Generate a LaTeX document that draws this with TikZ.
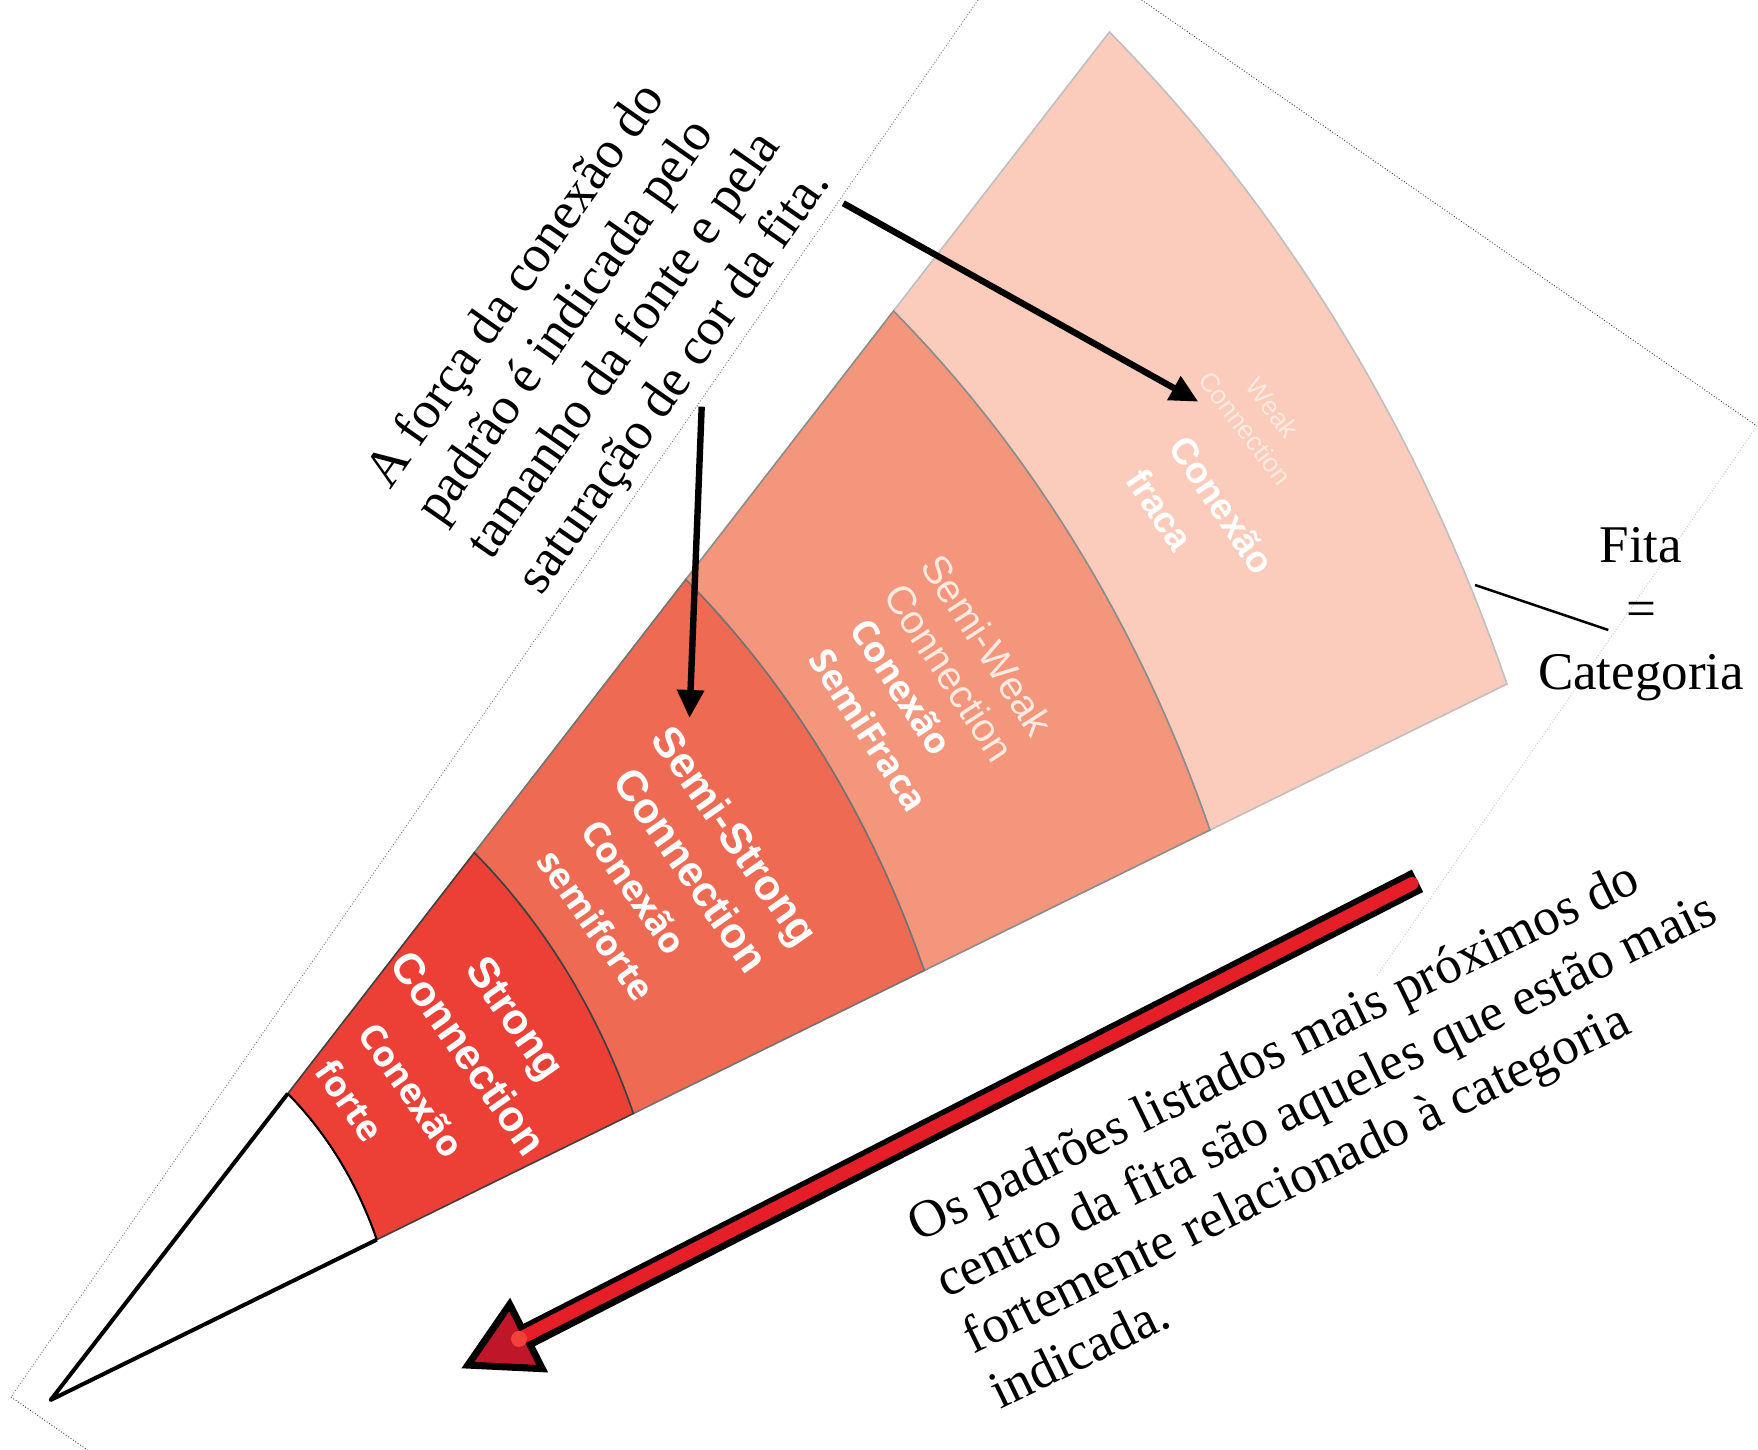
\documentclass[tikz,border=0pt]{standalone}
\usepackage{fontspec}
\setmainfont{Liberation Serif}
\newfontfamily\bandsans{Liberation Sans}
\newfontfamily\bandopen{Open Sans}
\usetikzlibrary{arrows.meta}

\definecolor{bandweak}{HTML}{FBCCBB}
\definecolor{bandsemiweak}{HTML}{F4967C}
\definecolor{bandsemistrong}{HTML}{EF6A53}
\definecolor{bandstrong}{HTML}{EC3F36}
\definecolor{arrowred}{HTML}{E61E28}
\definecolor{arrowdark}{HTML}{C0162A}
\definecolor{arrowglow}{HTML}{F2403A}
\definecolor{paleletter}{HTML}{FCE9DF}

% fan geometry: apex, lower edge direction, stretched upper edge, local sector angle
\def\fanang{26.08}
\pgfmathsetmacro\fanex{(0.6524-cos(\fanang)*0.8974)/sin(\fanang)}
\pgfmathsetmacro\faney{(0.8430-cos(\fanang)*0.4412)/sin(\fanang)}
% arc of the fan at local radius #1, from angle #2 to angle #3
\newcommand\fanarc[3]{plot[domain=#2:#3,samples=60,variable=\t]({50.7+#1*(0.8974*cos(\t)+\fanex*sin(\t))},{50+#1*(0.4412*cos(\t)+\faney*sin(\t))})}
% the same arc, joined to the path by a straight line
\newcommand\fanarcto[3]{-- plot[domain=#2:#3,samples=60,variable=\t]({50.7+#1*(0.8974*cos(\t)+\fanex*sin(\t))},{50+#1*(0.4412*cos(\t)+\faney*sin(\t))})}

\begin{document}
\begin{tikzpicture}[x=0.5pt,y=0.5pt,
  pageedge/.style={black!75, line width=0.45pt, dash pattern=on 0.45pt off 1pt},
  fanedge/.style={black, line width=2pt, line join=round},
  bandline/.style={line width=0.8pt},
  note/.style={font=\fontsize{26.5}{31}\selectfont, inner sep=0pt, anchor=base west},
  engbold/.style={font=\bandsans\bfseries\fontsize{21.5}{24}\selectfont, text=white, inner sep=0pt},
  ptbold/.style={font=\bandopen\bfseries\fontsize{18}{21}\selectfont, text=white, inner sep=0pt},
  ptboldarial/.style={font=\bandsans\bfseries\fontsize{18.5}{21}\selectfont, text=white, inner sep=0pt},
  engreg/.style={font=\bandsans\fontsize{20}{23}\selectfont, text=paleletter, inner sep=0pt},
  engsmall/.style={font=\bandsans\fontsize{13.25}{15}\selectfont, text=paleletter, inner sep=0pt},
  pointer/.style={black, line width=3.2pt, -{Triangle[length=14pt,width=13pt]}}
]
\fill[white] (0,0) rectangle (1758,1450);
\useasboundingbox (0,0) rectangle (1758,1450);

% outline of the tilted sheet
\coordinate (pgBL) at (11,53);
\coordinate (pgLtop) at (978,1450);
\coordinate (pgB) at (87.5,0);
\coordinate (pgTtop) at (1141.6,1450);
\coordinate (pgTR) at (1757,1024);
\coordinate (pgRend) at (1376,473);
\draw[pageedge, black!55] (pgLtop) -- (pgBL);
\draw[pageedge] (pgBL) -- (pgB);
\draw[pageedge] (pgTtop) -- (pgTR);
\draw[pageedge, black!22] (pgTR) -- (pgRend);

% ribbon bands, outermost first
\filldraw[bandline, fill=bandweak, draw=black!25]
  \fanarc{1622.8}{0}{\fanang} \fanarcto{1291.8}{\fanang}{0} -- cycle;
\filldraw[bandline, fill=bandsemiweak, draw=black!45]
  \fanarc{1291.8}{0}{\fanang} \fanarcto{973.4}{\fanang}{0} -- cycle;
\filldraw[bandline, fill=bandsemistrong, draw=black!55]
  \fanarc{973.4}{0}{\fanang} \fanarcto{649.3}{\fanang}{0} -- cycle;
\filldraw[bandline, fill=bandstrong, draw=black!75]
  \fanarc{649.3}{0}{\fanang} \fanarcto{363.4}{\fanang}{0} -- cycle;

% empty tip of the fan
\coordinate (apex) at (50.7,50);
\coordinate (w0L) at (376.8,210.3);
\coordinate (w0U) at (287.8,356.4);
\draw[black, line width=1pt] \fanarc{363.4}{0}{\fanang};
\draw[fanedge] (w0L) -- (apex) -- (w0U);

% band labels
\node[engbold, rotate=-55] (sE1) at (512.3,429.4) {Strong};
\node[engbold, rotate=-55] (sE2) at (469.3,397.1) {Connection};
\node[ptbold, rotate=-55] (sP1) at (411.9,360) {Conexão};
\node[ptbold, rotate=-55] (sP2) at (350.2,349.3) {forte};

\node[engbold, rotate=-55] (ssE1) at (731.9,612.4) {Semi-Strong};
\node[engbold, rotate=-55] (ssE2) at (691.7,580.1) {Connection};
\node[ptbold, rotate=-55] (ssP1) at (634.3,563.4) {Conexão};
\node[ptbold, rotate=-55] (ssP2) at (597,525.1) {semiforte};

\node[engreg, rotate=-57] (swE1) at (987.5,805) {Semi-Weak};
\node[engreg, rotate=-57] (swE2) at (949.2,777.5) {Connection};
\node[ptbold, rotate=-57] (swP1) at (901.7,763.3) {Conexão};
\node[ptbold, rotate=-57] (swP2) at (869.2,720) {SemiFraca};

\node[engsmall, rotate=-53] (wE1) at (1272.7,1042.1) {Weak};
\node[engsmall, rotate=-53] (wE2) at (1245.2,1021.8) {Connection};
\node[ptboldarial, rotate=-56] (wP1) at (1222,945.2) {Conexão};
\node[ptboldarial, rotate=-56] (wP2) at (1159.8,940.4) {fraca};

% note on strength
\node[note, rotate=55] (tA1) at (390,959) {A força da conexão do};
\node[note, rotate=55] (tA2) at (440.4,923.7) {padrão é indicada pelo};
\node[note, rotate=55] (tA3) at (490.8,888.4) {tamanho da fonte e pela};
\node[note, rotate=55] (tA4) at (541.2,853.1) {saturação de cor da fita.};

% note on ordering
\node[note, rotate=26] (tB1) at (918.5,207) {Os padrões listados mais próximos do};
\node[note, rotate=26] (tB2) at (945.7,151.3) {centro da fita são aqueles que estão mais};
\node[note, rotate=26] (tB3) at (972.9,95.6) {fortemente relacionado à categoria};
\node[note, rotate=26] (tB4) at (1000.1,39.9) {indicada.};

% ribbon = category
\node[font=\fontsize{26.5}{31.65}\selectfont, align=center, inner sep=0pt] (fita) at (1641,835.6) {Fita\\=\\Categoria};
\coordinate (fitaA) at (1475,865);
\coordinate (fitaB) at (1608.3,820);
\draw[black, line width=1.25pt] (fitaA) -- (fitaB);

% black pointers
\coordinate (p1s) at (843.3,1246.7);
\coordinate (p1e) at (1198.3,1048.3);
\coordinate (p2s) at (701.7,1043.3);
\coordinate (p2e) at (689.5,732);
\draw[pointer] (p1s) -- (p1e);
\draw[pointer] (p2s) -- (p2e);

% red arrow toward the centre of the ribbon
\coordinate (rTail) at (1417.5,569.2);
\coordinate (rTailIn) at (1412.2,566.5);
\coordinate (rBase) at (526,113.4);
\coordinate (rTip) at (467.9,84.9);
\coordinate (rC1) at (509.7,145.5);
\coordinate (rC2) at (542.3,81.3);
\coordinate (rBlob) at (519,111);
\draw[black, line width=12.5pt] (rTail) -- (rBase);
\filldraw[fill=arrowdark, draw=black, line width=3.5pt, line join=miter] (rTip) -- (rC1) -- (rC2) -- cycle;
\draw[arrowred, line width=6.5pt, line cap=round] (rTailIn) -- (rBlob);
\fill[arrowglow] (rBlob) circle[radius=8];
\end{tikzpicture}
\end{document}
